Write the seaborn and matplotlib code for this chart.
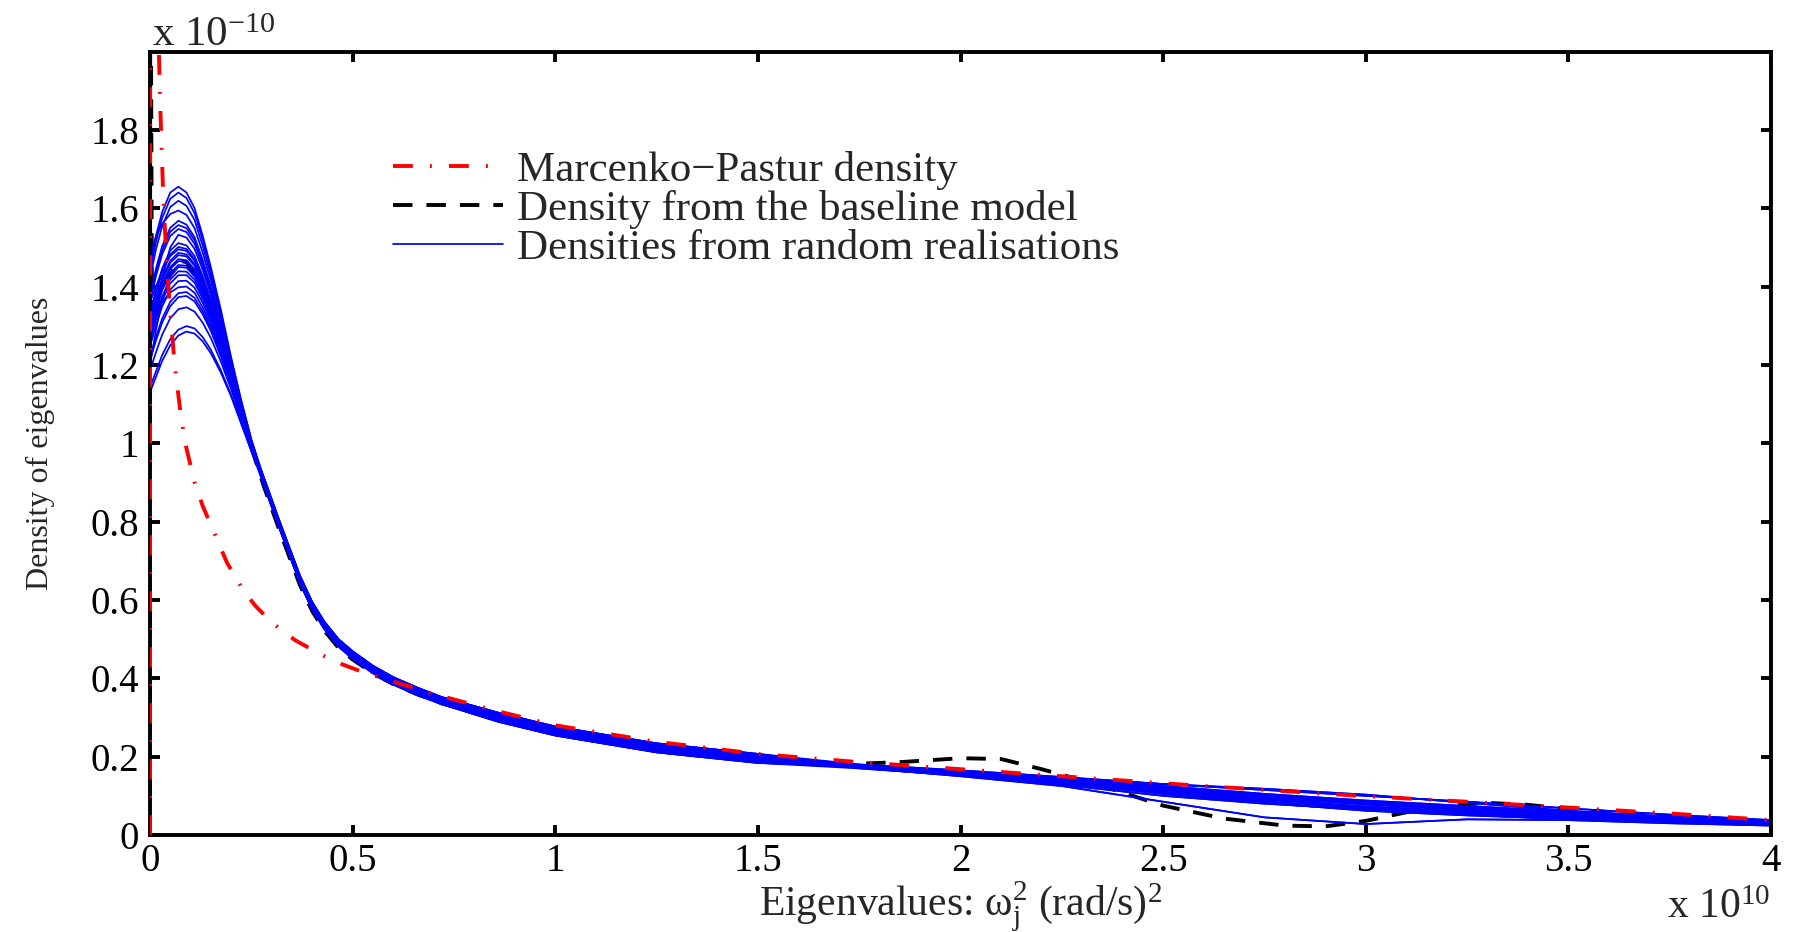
import numpy as np
import pandas as pd
import matplotlib
matplotlib.use("Agg")
import matplotlib.pyplot as plt
from matplotlib.ticker import FuncFormatter
import seaborn as sns

# ---------------- data (x in units of 1e10 (rad/s)^2, density in units of 1e-10) ----------------
# Marcenko-Pastur density
mp_x = [0, 0.0005, 0.016, 0.02, 0.025, 0.032, 0.04, 0.05, 0.062, 0.075,
        0.087, 0.11, 0.13, 0.155, 0.19, 0.23, 0.26, 0.29, 0.33, 0.36,
        0.45, 0.52, 0.59, 0.7, 0.85, 1.0, 1.25, 1.5, 1.75, 2.0,
        2.25, 2.5, 2.75, 3.0, 3.25, 3.5, 3.75, 4.0]
mp_y = [0, 4.0, 2.6, 2.08, 1.87, 1.65, 1.48, 1.33, 1.19, 1.08,
        1.0, 0.9, 0.84, 0.78, 0.695, 0.625, 0.585, 0.553, 0.518, 0.496,
        0.445, 0.418, 0.395, 0.36, 0.318, 0.28, 0.238, 0.207, 0.186, 0.168,
        0.15, 0.132, 0.115, 0.099, 0.085, 0.07, 0.055, 0.038]

# Density from the baseline model
base_x = [0, 0.0005, 0.005, 0.03, 0.07, 0.09, 0.13, 0.175, 0.2, 0.25,
          0.28, 0.32, 0.37, 0.40, 0.43, 0.465, 0.5, 0.55, 0.6, 0.66,
          0.72, 0.86, 1.0, 1.25, 1.5, 1.7, 1.85, 2.0, 2.1, 2.2,
          2.35, 2.5, 2.65, 2.8, 2.9, 3.0, 3.1, 3.2, 3.3, 3.4,
          3.5, 3.75, 4.0]
base_y = [0, 2.6, 1.3, 1.40, 1.465, 1.463, 1.395, 1.26, 1.17, 0.99,
          0.893, 0.776, 0.638, 0.572, 0.522, 0.478, 0.448, 0.413, 0.385, 0.359,
          0.336, 0.296, 0.262, 0.221, 0.194, 0.18, 0.186, 0.196, 0.194, 0.168,
          0.125, 0.075, 0.042, 0.024, 0.022, 0.036, 0.058, 0.076, 0.082, 0.077,
          0.066, 0.046, 0.03]

# Densities from random realisations: peak part (head), middle part and late part
head_x = [0, 0.015, 0.03, 0.05, 0.07, 0.09, 0.11, 0.13, 0.15, 0.175, 0.2, 0.225, 0.25]
blue_heads = [
    [1.45, 1.53, 1.59, 1.64, 1.655, 1.64, 1.60, 1.53, 1.45, 1.34, 1.22, 1.11, 1.01],
    [1.437, 1.516, 1.575, 1.624, 1.64, 1.626, 1.587, 1.519, 1.441, 1.334, 1.216, 1.108, 1.009],
    [1.42, 1.496, 1.554, 1.603, 1.619, 1.606, 1.57, 1.504, 1.429, 1.325, 1.21, 1.104, 1.007],
    [1.475, 1.53, 1.56, 1.585, 1.594, 1.583, 1.549, 1.487, 1.415, 1.314, 1.204, 1.10, 1.005],
    [1.376, 1.447, 1.503, 1.55, 1.568, 1.558, 1.526, 1.468, 1.399, 1.303, 1.197, 1.096, 1.003],
    [1.368, 1.437, 1.492, 1.54, 1.557, 1.549, 1.518, 1.461, 1.393, 1.299, 1.194, 1.095, 1.002],
    [1.359, 1.428, 1.482, 1.529, 1.547, 1.539, 1.509, 1.453, 1.388, 1.295, 1.192, 1.093, 1.001],
    [1.25, 1.33, 1.42, 1.50, 1.532, 1.525, 1.496, 1.443, 1.379, 1.288, 1.188, 1.091, 1.0],
    [1.328, 1.393, 1.446, 1.492, 1.511, 1.505, 1.478, 1.427, 1.366, 1.279, 1.182, 1.087, 0.999],
    [1.32, 1.384, 1.436, 1.482, 1.501, 1.496, 1.47, 1.421, 1.361, 1.275, 1.18, 1.086, 0.998],
    [1.36, 1.40, 1.44, 1.478, 1.495, 1.491, 1.466, 1.417, 1.358, 1.273, 1.178, 1.085, 0.997],
    [1.307, 1.369, 1.421, 1.466, 1.486, 1.482, 1.457, 1.41, 1.352, 1.269, 1.175, 1.083, 0.997],
    [1.303, 1.364, 1.415, 1.461, 1.48, 1.477, 1.453, 1.406, 1.349, 1.266, 1.174, 1.082, 0.996],
    [1.294, 1.355, 1.405, 1.45, 1.47, 1.467, 1.444, 1.399, 1.343, 1.262, 1.171, 1.081, 0.995],
    [1.29, 1.35, 1.40, 1.445, 1.465, 1.463, 1.44, 1.395, 1.34, 1.26, 1.17, 1.08, 0.995],
    [1.281, 1.34, 1.39, 1.434, 1.455, 1.453, 1.431, 1.388, 1.334, 1.256, 1.167, 1.078, 0.994],
    [1.20, 1.29, 1.37, 1.425, 1.45, 1.448, 1.427, 1.384, 1.331, 1.254, 1.166, 1.078, 0.994],
    [1.268, 1.326, 1.374, 1.418, 1.439, 1.438, 1.418, 1.377, 1.325, 1.249, 1.163, 1.076, 0.993],
    [1.26, 1.316, 1.364, 1.408, 1.429, 1.429, 1.41, 1.369, 1.319, 1.245, 1.161, 1.074, 0.992],
    [1.247, 1.301, 1.349, 1.392, 1.414, 1.415, 1.397, 1.359, 1.31, 1.238, 1.157, 1.072, 0.991],
    [1.30, 1.33, 1.36, 1.385, 1.398, 1.40, 1.384, 1.347, 1.301, 1.232, 1.152, 1.069, 0.99],
    [1.221, 1.272, 1.318, 1.361, 1.383, 1.386, 1.371, 1.337, 1.292, 1.225, 1.148, 1.067, 0.989],
    [1.212, 1.263, 1.308, 1.35, 1.373, 1.376, 1.362, 1.329, 1.287, 1.221, 1.146, 1.065, 0.988],
    [1.186, 1.233, 1.277, 1.319, 1.342, 1.347, 1.336, 1.308, 1.269, 1.208, 1.138, 1.061, 0.985],
    [1.143, 1.184, 1.225, 1.266, 1.29, 1.299, 1.293, 1.271, 1.239, 1.186, 1.124, 1.052, 0.981],
    [1.13, 1.17, 1.21, 1.25, 1.275, 1.285, 1.28, 1.26, 1.23, 1.18, 1.12, 1.05, 0.98],
]
mid_x = [0.28, 0.32, 0.37, 0.40, 0.43, 0.465, 0.5, 0.55, 0.6, 0.66,
         0.72, 0.86, 1.0, 1.25, 1.5]
blue_mids = [
    [0.915, 0.80, 0.662, 0.595, 0.545, 0.50, 0.469, 0.432, 0.403, 0.376, 0.352, 0.312, 0.277, 0.234, 0.207],
    [0.91, 0.795, 0.657, 0.59, 0.54, 0.495, 0.464, 0.427, 0.398, 0.371, 0.347, 0.306, 0.271, 0.228, 0.201],
    [0.905, 0.79, 0.652, 0.585, 0.535, 0.49, 0.459, 0.422, 0.393, 0.366, 0.342, 0.30, 0.265, 0.222, 0.195],
    [0.899, 0.784, 0.646, 0.579, 0.529, 0.484, 0.453, 0.416, 0.387, 0.36, 0.337, 0.293, 0.258, 0.215, 0.188],
    [0.908, 0.793, 0.655, 0.588, 0.538, 0.493, 0.462, 0.425, 0.396, 0.369, 0.345, 0.304, 0.269, 0.226, 0.199],
    [0.896, 0.781, 0.643, 0.576, 0.526, 0.481, 0.45, 0.413, 0.384, 0.357, 0.334, 0.289, 0.254, 0.211, 0.184],
    [0.913, 0.798, 0.66, 0.593, 0.543, 0.498, 0.467, 0.43, 0.401, 0.374, 0.35, 0.310, 0.275, 0.232, 0.205],
    [0.902, 0.787, 0.649, 0.582, 0.532, 0.487, 0.456, 0.419, 0.39, 0.363, 0.339, 0.296, 0.261, 0.218, 0.191],
    [0.906, 0.791, 0.653, 0.586, 0.536, 0.491, 0.46, 0.423, 0.394, 0.367, 0.343, 0.301, 0.266, 0.223, 0.196],
    [0.911, 0.796, 0.658, 0.591, 0.541, 0.496, 0.465, 0.428, 0.399, 0.372, 0.348, 0.307, 0.272, 0.229, 0.202],
]
late_x = [1.75, 2.0, 2.25, 2.5, 2.75, 3.0, 3.25, 3.5, 3.75, 4.0]
blue_lates = [
    [0.18, 0.165, 0.148, 0.13, 0.115, 0.1, 0.085, 0.068, 0.052, 0.038],
    [0.177, 0.16, 0.142, 0.122, 0.102, 0.085, 0.07, 0.057, 0.045, 0.034],
    [0.175, 0.158, 0.138, 0.115, 0.095, 0.078, 0.064, 0.052, 0.041, 0.031],
    [0.172, 0.155, 0.135, 0.11, 0.09, 0.073, 0.06, 0.048, 0.038, 0.029],
    [0.176, 0.155, 0.128, 0.10, 0.08, 0.065, 0.055, 0.045, 0.036, 0.027],
    [0.17, 0.152, 0.132, 0.108, 0.086, 0.068, 0.056, 0.044, 0.034, 0.025],
    [0.179, 0.162, 0.145, 0.125, 0.105, 0.088, 0.074, 0.06, 0.047, 0.035],
    [0.172, 0.15, 0.125, 0.085, 0.045, 0.028, 0.04, 0.038, 0.03, 0.024],
    [0.174, 0.157, 0.137, 0.113, 0.093, 0.07, 0.052, 0.04, 0.032, 0.025],
    [0.178, 0.163, 0.146, 0.13, 0.118, 0.103, 0.082, 0.062, 0.046, 0.033],
    [0.175, 0.159, 0.14, 0.119, 0.099, 0.081, 0.066, 0.053, 0.042, 0.032],
    [0.173, 0.156, 0.133, 0.105, 0.082, 0.062, 0.05, 0.041, 0.033, 0.026],
    [0.177, 0.161, 0.143, 0.12, 0.098, 0.079, 0.065, 0.053, 0.043, 0.033],
]

y_ticks = [0, 0.2, 0.4, 0.6, 0.8, 1.0, 1.2, 1.4, 1.6, 1.8]
x_ticks = [0, 0.5, 1, 1.5, 2, 2.5, 3, 3.5, 4]
legend_labels = ["Marcenko\u2212Pastur density",
                 "Density from the baseline model",
                 "Densities from random realisations"]

# ---------------- build long table for the realisations ----------------
rows = []
for i, head in enumerate(blue_heads):
    mid = blue_mids[i % len(blue_mids)]
    late = blue_lates[i % len(blue_lates)]
    for xv, yv in zip(head_x + mid_x + late_x, head + mid + late):
        rows.append((i, xv, yv))
blue_df = pd.DataFrame(rows, columns=["curve", "x", "y"])

# ---------------- style ----------------
sns.set_theme(style="white")
plt.rcParams["font.family"] = ["Liberation Serif", "DejaVu Serif"]
plt.rcParams["mathtext.fontset"] = "custom"
plt.rcParams["mathtext.rm"] = "Liberation Serif"
plt.rcParams["mathtext.it"] = "Liberation Serif:italic"
plt.rcParams["axes.unicode_minus"] = True

W, H = 1794, 932
fig = plt.figure(figsize=(W / 100, H / 100), dpi=100)
ax_l, ax_r, ax_t, ax_b = 150, 1771, 51.5, 835
ax = fig.add_axes([ax_l / W, 1 - ax_b / H, (ax_r - ax_l) / W, (ax_b - ax_t) / H])

sns.lineplot(x=mp_x, y=mp_y, sort=False, estimator=None, color="red",
             lw=2.8, ax=ax, zorder=3)
red_line = ax.lines[-1]
red_line.set_dashes([5.1, 4.4, 0.5, 4.4])

sns.lineplot(x=base_x, y=base_y, sort=False, estimator=None, color="black",
             lw=2.8, ax=ax, zorder=2.1)
black_line = ax.lines[-1]
black_line.set_dashes([5.0, 3.6])

n_before = len(ax.lines)
sns.lineplot(data=blue_df, x="x", y="y", units="curve", estimator=None,
             sort=False, color="blue", lw=1.25, ax=ax, legend=False, zorder=2.2)
blue_line = ax.lines[n_before]

ax.set_xlim(0, 4)
ax.set_ylim(0, 2)
ax.set_xticks(x_ticks)
ax.set_yticks(y_ticks)
fmt = FuncFormatter(lambda v, p: "%g" % v)
ax.xaxis.set_major_formatter(fmt)
ax.yaxis.set_major_formatter(fmt)

for s in ax.spines.values():
    s.set_linewidth(2.8)
    s.set_color("black")
ax.tick_params(axis="both", direction="in", length=7, width=2.8,
               top=True, right=True, bottom=True, left=True,
               labelsize=28, colors="black")
ax.tick_params(axis="x", pad=6)
ax.tick_params(axis="y", pad=8)

axh = ax_b - ax_t
axw = ax_r - ax_l
ax.set_xlabel(r"Eigenvalues: $\mathrm{\omega_j^2}$ (rad/s)$^2$", fontsize=30, va="baseline")
ax.xaxis.set_label_coords(0.5, -(916 - ax_b) / axh)
ax.set_ylabel("Density of eigenvalues", fontsize=23)
ax.yaxis.set_label_coords(-(ax_l - 55) / axw, 0.5)

fig.text(152 / W, 1 - 46 / H, r"x 10$^{-10}$", fontsize=31, ha="left", va="baseline")
fig.text(1770 / W, 1 - 918 / H, r"x 10$^{10}$", fontsize=30, ha="right", va="baseline")

leg = ax.legend([red_line, black_line, blue_line], legend_labels,
                loc="upper left", bbox_to_anchor=(393 / W, 1 - 151 / H),
                bbox_transform=fig.transFigure, frameon=False,
                fontsize=31, handlelength=2.55, handletextpad=0.33,
                labelspacing=0.0, borderpad=0, borderaxespad=0)

fig.savefig("out.png", dpi=100, facecolor="white")
